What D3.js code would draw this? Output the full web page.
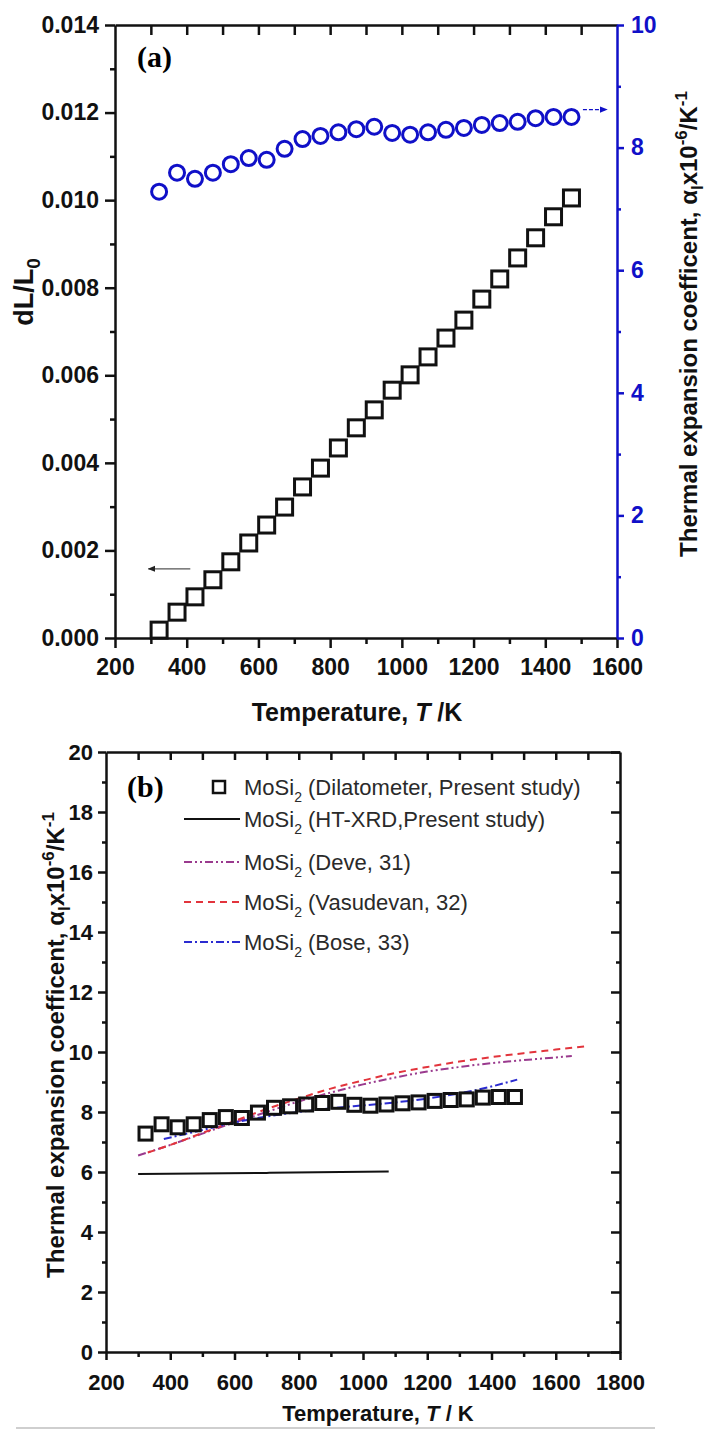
<!DOCTYPE html>
<html>
<head>
<meta charset="utf-8">
<script src="https://cdn.jsdelivr.net/npm/d3@7"></script>
<style>
  body { margin: 0; background: #fff; }
  svg { display: block; }
</style>
</head>
<body>
<script>
// ---- data ----
// dilatometer run temperatures, K
const temps = [323, 373, 423, 473, 523, 573, 623, 673, 723, 773, 823, 873,
               923, 973, 1023, 1073, 1123, 1173, 1223, 1273, 1323, 1373, 1423, 1473];
// panel (a) squares: dL/L0
const dLL0 = [0.00018, 0.00059, 0.00094, 0.00133, 0.00174, 0.00217, 0.00258, 0.00299,
              0.00345, 0.00388, 0.00434, 0.00480, 0.00521, 0.00566, 0.00601, 0.00642,
              0.00685, 0.00726, 0.00774, 0.00820, 0.00868, 0.00914, 0.00962, 0.01005];
// dilatometer expansion coefficient, x10^-6 /K  (circles in (a), squares in (b))
const alphaDil = [7.28, 7.59, 7.49, 7.59, 7.73, 7.83, 7.80, 7.98, 8.14, 8.19, 8.25, 8.30,
                  8.34, 8.24, 8.21, 8.25, 8.29, 8.32, 8.37, 8.40, 8.42, 8.48, 8.50, 8.50];

// panel (b) comparison curves
const xrdT = [300, 700, 1080];
const xrdAlpha = [5.93, 5.97, 6.02];
const deveT = [300, 400, 500, 600, 700, 800, 900, 1000, 1100, 1200, 1300, 1400, 1500, 1600, 1650];
const deveAlpha = [6.55, 6.9, 7.28, 7.65, 8.0, 8.35, 8.65, 8.92, 9.15, 9.35, 9.5, 9.63, 9.73, 9.82, 9.87];
const vasT = [330, 400, 500, 600, 700, 800, 900, 1000, 1100, 1200, 1300, 1400, 1500, 1600, 1700];
const vasAlpha = [6.65, 6.9, 7.3, 7.7, 8.1, 8.45, 8.78, 9.05, 9.3, 9.5, 9.68, 9.83, 9.96, 10.08, 10.2];
const boseT = [380, 500, 600, 700, 800, 900, 1000, 1100, 1200, 1300, 1400, 1480];
const boseAlpha = [7.1, 7.4, 7.65, 7.85, 8.0, 8.12, 8.22, 8.32, 8.45, 8.62, 8.85, 9.08];

// ticks
const topXTicks = [200, 400, 600, 800, 1000, 1200, 1400, 1600];
const topXMinor = [300, 500, 700, 900, 1100, 1300, 1500];
const topFrameTicks = [300, 400, 500, 600, 700, 800, 900, 1000, 1100, 1200, 1300, 1400, 1500];
const topLeftTicks = [0, 0.002, 0.004, 0.006, 0.008, 0.010, 0.012, 0.014];
const topLeftMinor = [0.001, 0.003, 0.005, 0.007, 0.009, 0.011, 0.013];
const topRightTicks = [0, 2, 4, 6, 8, 10];
const topRightMinor = [1, 3, 5, 7, 9];
const botXTicks = [200, 400, 600, 800, 1000, 1200, 1400, 1600, 1800];
const botXMinor = [300, 500, 700, 900, 1100, 1300, 1500, 1700];
const botFrameTicks = [300, 400, 500, 600, 700, 800, 900, 1000, 1100, 1200, 1300, 1400, 1500, 1600, 1700];
const botYTicks = [0, 2, 4, 6, 8, 10, 12, 14, 16, 18, 20];
const botYMinor = [1, 3, 5, 7, 9, 11, 13, 15, 17, 19];

const legendRows = [
    { text: '(Dilatometer, Present study)', kind: 'square' },
    { text: '(HT-XRD,Present study)', kind: 'line', color: '#111', dash: null },
    { text: '(Deve, 31)', kind: 'line', color: '#9a3a8e', dash: '8,3,2,3,2,3' },
    { text: '(Vasudevan, 32)', kind: 'line', color: '#e2343c', dash: '7,5' },
    { text: '(Bose, 33)', kind: 'line', color: '#2b2bd0', dash: '8,3,2,3' }
];

// ---- layout ----
const W = 710, H = 1429;
const FONT = '"Liberation Sans", Arial, Helvetica, sans-serif';
const SERIF = '"Liberation Serif", "Times New Roman", serif';
const BLUE = '#1010c8';
const intFmt = d3.format('d');

const svg = d3.select('body').append('svg')
    .attr('width', W)
    .attr('height', H);

svg.append('rect').attr('width', W).attr('height', H).attr('fill', 'white');

const defs = svg.append('defs');
function arrowMarker(id, color) {
    defs.append('marker')
        .attr('id', id)
        .attr('viewBox', '0 0 10 10')
        .attr('refX', 9).attr('refY', 5)
        .attr('markerWidth', 6).attr('markerHeight', 6)
        .attr('orient', 'auto')
        .append('path')
        .attr('d', 'M0,1 L10,5 L0,9 Z')
        .attr('fill', color);
}
arrowMarker('arrBlack', '#222');
arrowMarker('arrBlue', BLUE);

function styleAxis(sel, color, size) {
    sel.select('.domain').attr('stroke', color).attr('stroke-width', 2.5);
    sel.selectAll('.tick line').attr('stroke', color).attr('stroke-width', 2.5);
    sel.selectAll('.tick text')
        .attr('fill', color)
        .style('font-size', size + 'px')
        .style('font-weight', 'bold')
        .style('font-family', FONT);
}
function minor(sel, color) {
    sel.select('.domain').remove();
    sel.selectAll('.tick line').attr('stroke', color).attr('stroke-width', 2.5);
    sel.selectAll('.tick text').remove();
}

// ================= panel (a) =================
const xA = d3.scaleLinear().domain([200, 1600]).range([115, 617]);
const yA = d3.scaleLinear().domain([0, 0.014]).range([638, 25]);
const yAR = d3.scaleLinear().domain([0, 10]).range([638, 25]);

const gA = svg.append('g');

// frame top with inward ticks
gA.append('g')
    .attr('transform', `translate(0,${yA(0.014)})`)
    .call(d3.axisBottom(xA).tickValues(topFrameTicks).tickSize(10).tickSizeOuter(0).tickFormat(''))
    .call(s => styleAxis(s, '#111', 10));

// left axis
gA.append('g')
    .attr('transform', `translate(${xA(200)},0)`)
    .call(d3.axisLeft(yA).tickValues(topLeftMinor).tickSize(5).tickFormat(''))
    .call(s => minor(s, '#111'));
gA.append('g')
    .attr('transform', `translate(${xA(200)},0)`)
    .call(d3.axisLeft(yA).tickValues(topLeftTicks).tickSize(10).tickSizeOuter(0)
        .tickPadding(6).tickFormat(d3.format('.3f')))
    .call(s => styleAxis(s, '#111', 23));

// bottom axis
gA.append('g')
    .attr('transform', `translate(0,${yA(0)})`)
    .call(d3.axisBottom(xA).tickValues(topXMinor).tickSize(6).tickFormat(''))
    .call(s => minor(s, '#111'));
gA.append('g')
    .attr('transform', `translate(0,${yA(0)})`)
    .call(d3.axisBottom(xA).tickValues(topXTicks).tickSize(10).tickSizeOuter(0)
        .tickPadding(11).tickFormat(intFmt))
    .call(s => styleAxis(s, '#111', 23));

// right (blue) axis
gA.append('g')
    .attr('transform', `translate(${xA(1600)},0)`)
    .call(d3.axisRight(yAR).tickValues(topRightMinor).tickSize(4).tickFormat(''))
    .call(s => minor(s, BLUE));
gA.append('g')
    .attr('transform', `translate(${xA(1600)},0)`)
    .call(d3.axisRight(yAR).tickValues(topRightTicks).tickSize(7).tickSizeOuter(0)
        .tickPadding(7).tickFormat(intFmt))
    .call(s => styleAxis(s, BLUE, 23));

// squares dL/L0
const sqA = 16;
gA.append('g')
    .selectAll('rect')
    .data(temps)
    .join('rect')
    .attr('x', d => xA(d) - sqA / 2)
    .attr('y', (d, i) => yA(dLL0[i]) - sqA / 2)
    .attr('width', sqA)
    .attr('height', sqA)
    .attr('fill', 'none')
    .attr('stroke', '#111')
    .attr('stroke-width', 3);

// circles alpha
gA.append('g')
    .selectAll('circle')
    .data(temps)
    .join('circle')
    .attr('cx', d => xA(d))
    .attr('cy', (d, i) => yAR(alphaDil[i]))
    .attr('r', 7.5)
    .attr('fill', 'none')
    .attr('stroke', BLUE)
    .attr('stroke-width', 3);

// arrows
gA.append('line')
    .attr('x1', xA(410)).attr('x2', xA(293))
    .attr('y1', yA(0.00158)).attr('y2', yA(0.00158))
    .attr('stroke', '#555').attr('stroke-width', 1.3)
    .attr('marker-end', 'url(#arrBlack)');
gA.append('line')
    .attr('x1', xA(1505)).attr('x2', xA(1572))
    .attr('y1', yAR(8.62)).attr('y2', yAR(8.62))
    .attr('stroke', BLUE).attr('stroke-width', 1.3)
    .attr('stroke-dasharray', '4,2')
    .attr('marker-end', 'url(#arrBlue)');

// labels
gA.append('text')
    .attr('x', xA(200) + 22).attr('y', yA(0.014) + 42)
    .style('font-family', SERIF).style('font-weight', 'bold').style('font-size', '30px')
    .text('(a)');

const dl = gA.append('text')
    .attr('transform', `translate(33,292) rotate(-90)`)
    .attr('text-anchor', 'middle')
    .style('font-family', FONT).style('font-weight', 'bold').style('font-size', '27px')
    .attr('fill', '#111');
dl.append('tspan').text('dL/L');
dl.append('tspan').attr('dy', 7).style('font-size', '19px').text('0');

function alphaLabel(sel, size) {
    const sub = Math.round(size * 0.7);
    sel.append('tspan').text('Thermal expansion coefficent, α');
    sel.append('tspan').attr('dy', size * 0.25).style('font-size', sub + 'px').text('l');
    sel.append('tspan').attr('dy', -size * 0.25).text('x10');
    sel.append('tspan').attr('dy', -size * 0.4).style('font-size', sub + 'px').text('-6');
    sel.append('tspan').attr('dy', size * 0.4).text('/K');
    sel.append('tspan').attr('dy', -size * 0.4).style('font-size', sub + 'px').text('-1');
}
gA.append('text')
    .attr('transform', `translate(697,324) rotate(-90)`)
    .attr('text-anchor', 'middle')
    .style('font-family', FONT).style('font-weight', 'bold').style('font-size', '24px')
    .attr('fill', '#111')
    .call(s => alphaLabel(s, 24));

const tA = gA.append('text')
    .attr('x', 357).attr('y', 721)
    .attr('text-anchor', 'middle')
    .style('font-family', FONT).style('font-weight', 'bold').style('font-size', '25px')
    .attr('fill', '#111');
tA.append('tspan').text('Temperature, ');
tA.append('tspan').style('font-style', 'italic').text('T');
tA.append('tspan').text(' /K');

// ================= panel (b) =================
const xB = d3.scaleLinear().domain([200, 1800]).range([106, 620]);
const yB = d3.scaleLinear().domain([0, 20]).range([1352, 752]);

const gB = svg.append('g');

gB.append('g')
    .attr('transform', `translate(0,${yB(20)})`)
    .call(d3.axisBottom(xB).tickValues(botFrameTicks).tickSize(8).tickSizeOuter(0).tickFormat(''))
    .call(s => styleAxis(s, '#111', 10));

gB.append('g')
    .attr('transform', `translate(${xB(1800)},0)`)
    .call(d3.axisLeft(yB).tickValues(botYMinor).tickSize(4).tickFormat(''))
    .call(s => minor(s, '#111'));
gB.append('g')
    .attr('transform', `translate(${xB(1800)},0)`)
    .call(d3.axisLeft(yB).tickValues(botYTicks).tickSize(9).tickSizeOuter(0).tickFormat(''))
    .call(s => styleAxis(s, '#111', 10));

gB.append('g')
    .attr('transform', `translate(${xB(200)},0)`)
    .call(d3.axisLeft(yB).tickValues(botYMinor).tickSize(4).tickFormat(''))
    .call(s => minor(s, '#111'));
gB.append('g')
    .attr('transform', `translate(${xB(200)},0)`)
    .call(d3.axisLeft(yB).tickValues(botYTicks).tickSize(8).tickSizeOuter(0)
        .tickPadding(5).tickFormat(intFmt))
    .call(s => styleAxis(s, '#111', 22));

gB.append('g')
    .attr('transform', `translate(0,${yB(0)})`)
    .call(d3.axisBottom(xB).tickValues(botXMinor).tickSize(5).tickFormat(''))
    .call(s => minor(s, '#111'));
gB.append('g')
    .attr('transform', `translate(0,${yB(0)})`)
    .call(d3.axisBottom(xB).tickValues(botXTicks).tickSize(8).tickSizeOuter(0)
        .tickPadding(14).tickFormat(intFmt))
    .call(s => styleAxis(s, '#111', 22));

// curves
const lineB = d3.line().x(d => xB(d[0])).y(d => yB(d[1])).curve(d3.curveMonotoneX);
const curves = [
    { t: xrdT, a: xrdAlpha, row: legendRows[1] },
    { t: deveT, a: deveAlpha, row: legendRows[2] },
    { t: vasT, a: vasAlpha, row: legendRows[3] },
    { t: boseT, a: boseAlpha, row: legendRows[4] }
];
curves.forEach(c => {
    gB.append('path')
        .datum(c.t.map((t, i) => [t, c.a[i]]))
        .attr('fill', 'none')
        .attr('stroke', c.row.color)
        .attr('stroke-width', 2)
        .attr('stroke-dasharray', c.row.dash)
        .attr('d', lineB);
});

// dilatometer squares
const sqB = 13;
gB.append('g')
    .selectAll('rect')
    .data(temps)
    .join('rect')
    .attr('x', d => xB(d) - sqB / 2)
    .attr('y', (d, i) => yB(alphaDil[i]) - sqB / 2)
    .attr('width', sqB)
    .attr('height', sqB)
    .attr('fill', 'none')
    .attr('stroke', '#111')
    .attr('stroke-width', 3);

// legend
const legendBase = [795, 827, 870, 910, 950];
const leg = gB.append('g')
    .style('font-family', FONT)
    .style('font-size', '22px')
    .attr('fill', '#2a2a2a');
legendRows.forEach((r, i) => {
    const yb = legendBase[i];
    if (r.kind === 'square') {
        leg.append('rect')
            .attr('x', 213).attr('y', yb - 14)
            .attr('width', 12).attr('height', 12)
            .attr('fill', 'none').attr('stroke', '#111').attr('stroke-width', 2.5);
    } else {
        leg.append('line')
            .attr('x1', 184).attr('x2', 240)
            .attr('y1', yb - 8).attr('y2', yb - 8)
            .attr('stroke', r.color).attr('stroke-width', 2)
            .attr('stroke-dasharray', r.dash);
    }
    const t = leg.append('text').attr('x', 244).attr('y', yb);
    t.append('tspan').text('MoSi');
    t.append('tspan').attr('dy', 7).style('font-size', '14px').text('2');
    t.append('tspan').attr('dy', -7).text(' ' + r.text);
});

gB.append('text')
    .attr('x', 127).attr('y', 797)
    .style('font-family', SERIF).style('font-weight', 'bold').style('font-size', '30px')
    .text('(b)');

gB.append('text')
    .attr('transform', `translate(64,1045) rotate(-90)`)
    .attr('text-anchor', 'middle')
    .style('font-family', FONT).style('font-weight', 'bold').style('font-size', '24px')
    .attr('fill', '#111')
    .call(s => alphaLabel(s, 24));

const tB = gB.append('text')
    .attr('x', 378).attr('y', 1421)
    .attr('text-anchor', 'middle')
    .style('font-family', FONT).style('font-weight', 'bold').style('font-size', '22px')
    .attr('fill', '#111');
tB.append('tspan').text('Temperature, ');
tB.append('tspan').style('font-style', 'italic').text('T');
tB.append('tspan').text(' / K');

// faint rule under the figure
svg.append('line')
    .attr('x1', 16).attr('x2', 655)
    .attr('y1', 1428).attr('y2', 1428)
    .attr('stroke', '#cfcfcf').attr('stroke-width', 2);
</script>
</body>
</html>
